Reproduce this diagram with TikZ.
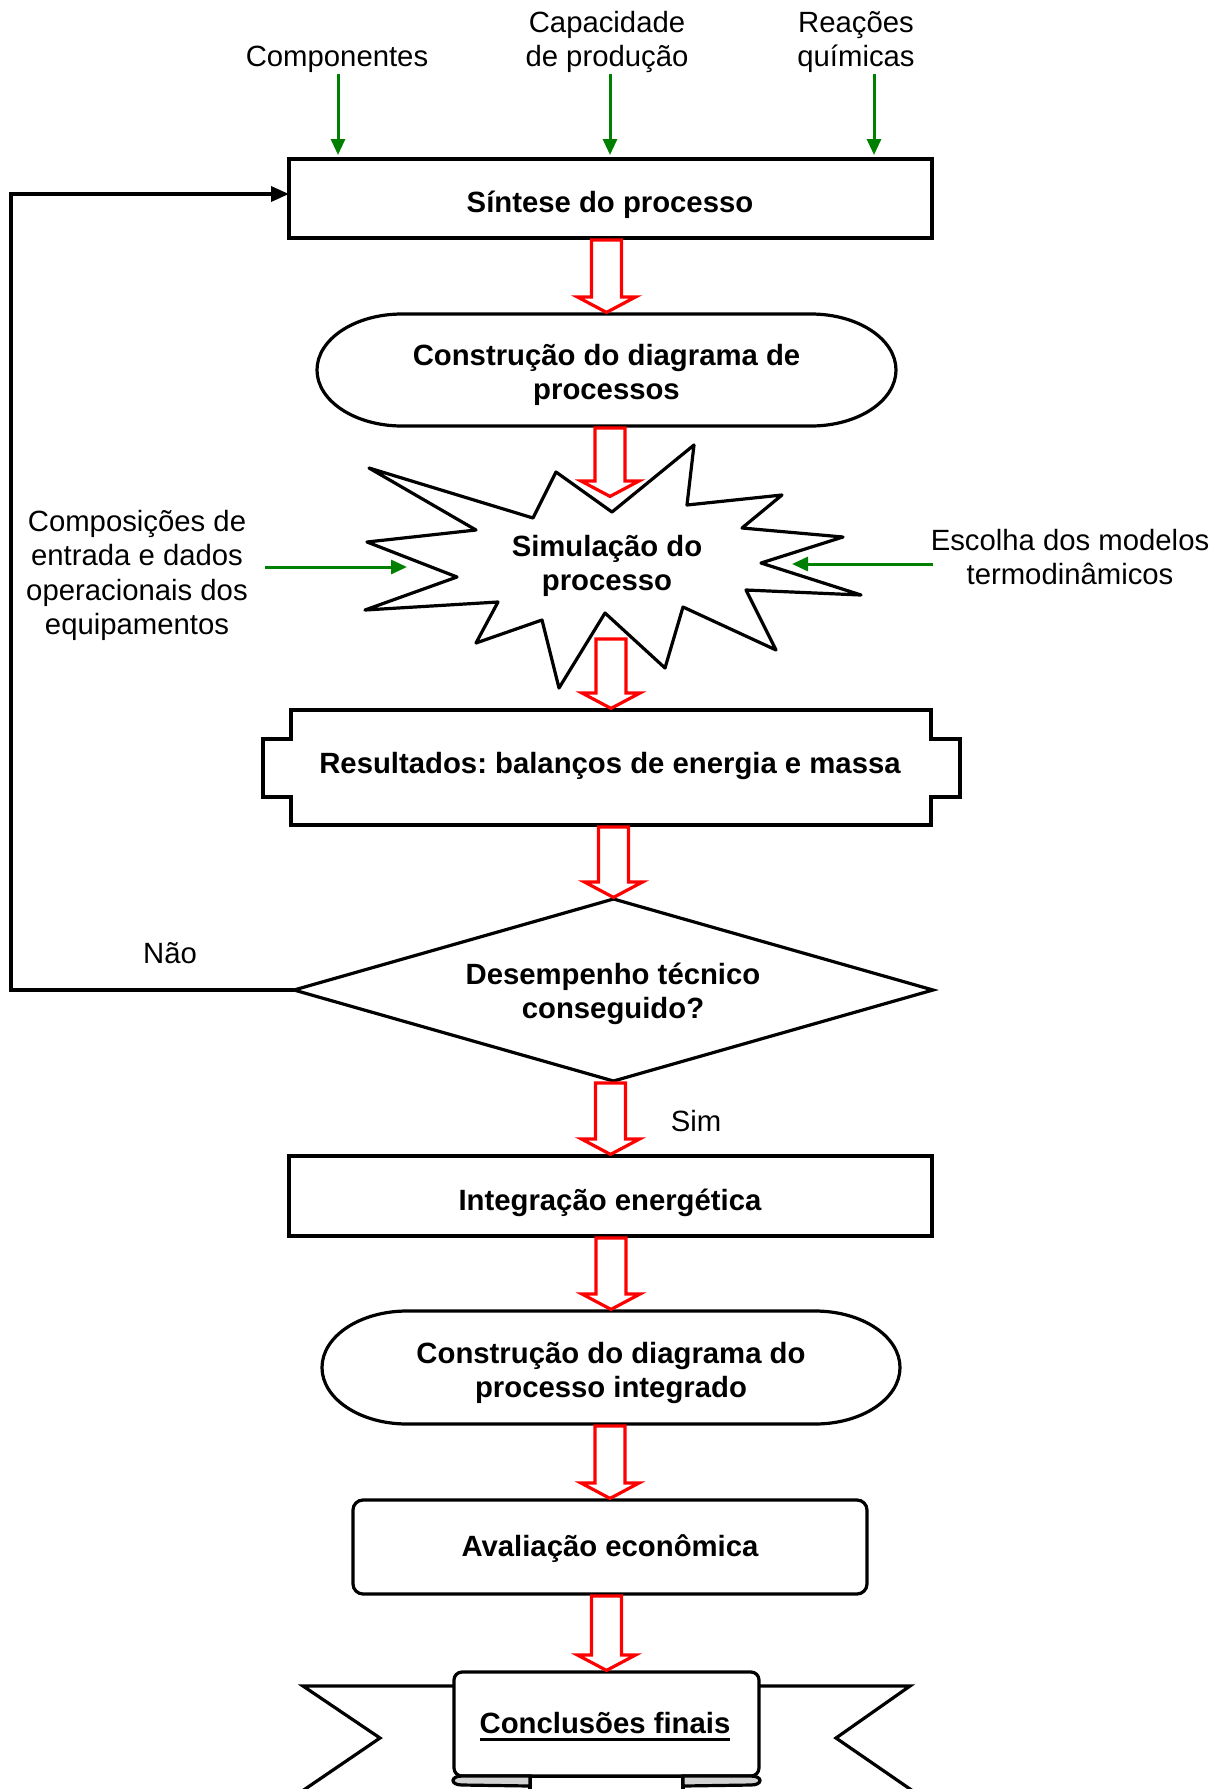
\documentclass[tikz,border=0pt]{standalone}
\usepackage{fontspec}
\setmainfont{Liberation Sans}
\usetikzlibrary{arrows.meta,calc}
\definecolor{ggreen}{RGB}{0,128,0}
\newcommand\fsz{\fontsize{14.65pt}{17.1pt}\selectfont\frenchspacing}
% hollow red block arrow: from source point #1 down to tip point #2
\newcommand\blockarr[2]{%
  \draw[redarrow] let \p1=(#1), \p2=(#2) in
    (\x2-7.5pt,\y1-1pt) -- (\x2-7.5pt,\y2+8.5pt) -- (\x2-14.5pt,\y2+8.5pt) --
    (\x2,\y2+0.8pt) -- (\x2+14.5pt,\y2+8.5pt) -- (\x2+7.5pt,\y2+8.5pt) --
    (\x2+7.5pt,\y1-1pt) -- cycle;}
% stadium outline round a named frame node
\newcommand\stadium[2]{%
  \draw[outline] ($(#1.north west)+(85,0)$) -- ($(#1.north east)+(-85,0)$)
    arc[start angle=90,end angle=-90,x radius=42.5pt,y radius=#2]
    -- ($(#1.south west)+(85,0)$)
    arc[start angle=270,end angle=90,x radius=42.5pt,y radius=#2] -- cycle;}
\begin{document}
\frenchspacing
\begin{tikzpicture}[x=0.5pt,y=-0.5pt,
  every node/.style={inner sep=0pt, outer sep=0pt},
  lbl/.style={align=center, font=\fsz},
  btxt/.style={align=center, font=\fsz\bfseries},
  frame/.style={draw=none},
  outline/.style={draw=black, line width=1.6pt, fill=white, line join=miter},
  boxed/.style={draw=black, line width=1.6pt, fill=white},
  redarrow/.style={draw=red, line width=1.6pt, fill=white, line join=miter},
  garrow/.style={draw=ggreen, line width=1.5pt, -{Triangle[length=8pt,width=7pt]}},
  fb/.style={draw=black, line width=1.7pt, -{Triangle[length=9pt,width=7.5pt]}}]
\useasboundingbox (0,0) rectangle (1222,1789);
\fill[white] (0,0) rectangle (1222,1789);
\clip (0,0) rectangle (1222,1789);

% ---- top labels ----
\node[lbl] (lcomp) at (337,59) {Componentes};
\node[lbl] (lcap) at (607,42) {Capacidade\\de produção};
\node[lbl] (lrea) at (856,42) {Reações\\químicas};

% ---- Síntese ----
\node[boxed, minimum width=321.5pt, minimum height=39.5pt] (s1) at (610.5,198.5) {};
\node[btxt] (s1t) at (610,205) {Síntese do processo};

\coordinate (g1) at (338,74);
\coordinate (g2) at (610,74);
\coordinate (g3) at (874,74);
\draw[garrow, shorten >=2pt] (g1) -- (g1 |- s1.north);
\draw[garrow, shorten >=2pt] (g2) -- (g2 |- s1.north);
\draw[garrow, shorten >=2pt] (g3) -- (g3 |- s1.north);

% ---- Construção do diagrama de processos ----
\node[frame, minimum width=289.5pt, minimum height=56pt] (e1) at (606.5,370) {};
\stadium{e1}{28pt}
\node[btxt] (e1t) at (606.5,375) {Construção do diagrama de\\processos};

% ---- Simulação (star) ----
\draw[outline, line join=round] (369,468) -- (533,518) -- (556,472) -- (612,512) -- (694,445) -- (687,505)
  -- (782,495) -- (742,528) -- (843,537) -- (761,563) -- (861,595) -- (746,590)
  -- (776,650) -- (683,607) -- (665,668) -- (605,613) -- (559,688) -- (542,620)
  -- (476,643) -- (498,602) -- (365,610) -- (457,577) -- (367,542) -- (476,530) -- cycle;
\node[btxt] (sim) at (607,566) {Simulação do\\processo};
\coordinate (simtop) at (610,498);
\coordinate (simbot) at (611,637);

\node[lbl] (lcomp2) at (137,575.5) {Composições de\\entrada e dados\\operacionais dos\\equipamentos};
\node[lbl] (lesc) at (1070,557) {Escolha dos modelos\\termodinâmicos};
\coordinate (gl) at (265,567);
\coordinate (glt) at (407,567);
\coordinate (gr) at (933,564);
\coordinate (grt) at (792,564);
\draw[garrow] (gl) -- (glt);
\draw[garrow] (gr) -- (grt);

% ---- Resultados ----
\node[frame, minimum width=320pt, minimum height=57.5pt] (res) at (611,767.5) {};
\draw[outline] (res.north west) -- (res.north east) -- ($(res.north east)+(0,29)$)
  -- ($(res.north east)+(29,29)$) -- ($(res.south east)+(29,-28)$)
  -- ($(res.south east)+(0,-28)$) -- (res.south east) -- (res.south west)
  -- ($(res.south west)+(0,-28)$) -- ($(res.south west)+(-28,-28)$)
  -- ($(res.north west)+(-28,29)$) -- ($(res.north west)+(0,29)$) -- cycle;
\node[btxt] (rest) at (610,766) {Resultados: balanços de energia e massa};

% ---- Decision ----
\node[frame, minimum width=319.5pt, minimum height=91pt] (dec) at (613.5,990) {};
\draw[outline] (dec.west) -- (dec.north) -- (dec.east) -- (dec.south) -- cycle;
\node[btxt] (dect) at (613,994) {Desempenho técnico\\conseguido?};
\node[lbl] (nao) at (170,953) {Não};
\node[lbl] (simlab) at (696,1121) {Sim};

\coordinate (fbx) at (11,0);
\draw[fb] (dec.west) -- (dec.west -| fbx) |- ([yshift=2.25pt]s1.west);

% ---- Integração ----
\node[boxed, minimum width=321.5pt, minimum height=40pt] (s5) at (610.5,1196) {};
\node[btxt] (s5t) at (610,1202.5) {Integração energética};

% ---- Construção do diagrama do processo integrado ----
\node[frame, minimum width=289pt, minimum height=56.5pt] (e2) at (611,1367.5) {};
\stadium{e2}{28.25pt}
\node[btxt] (e2t) at (611,1373) {Construção do diagrama do\\processo integrado};

% ---- Avaliação ----
\node[boxed, rounded corners=5pt, minimum width=257pt, minimum height=47pt] (av) at (610,1547) {};
\node[btxt] (avt) at (610,1549) {Avaliação econômica};

% ---- Ribbon ----
\node[frame, minimum width=152.5pt, minimum height=52pt] (rib) at (606.5,1724) {};
\draw[outline] (470,1686) -- (303,1686) -- (380,1738) -- (289,1800) -- (470,1800);
\draw[outline] (740,1686) -- (910,1686) -- (836,1738) -- (926,1800) -- (740,1800);
\draw[outline] (530,1800) -- (530,1776) -- (683,1776) -- (683,1800);
\draw[outline, rounded corners=4pt] (rib.south west) -- (rib.north west) -- (rib.north east) -- (rib.south east) -- cycle;
\draw[outline, fill=gray!35] (530,1776) -- (462,1776) .. controls (450,1776) and (450,1785) .. (462,1785) -- (530,1786) -- cycle;
\draw[outline, fill=gray!35] (683,1776) -- (751,1776) .. controls (763,1776) and (763,1785) .. (751,1785) -- (683,1786) -- cycle;
\node[btxt] (cft) at (605,1723) {Conclusões finais};
\draw[line width=1.5pt] ([yshift=-3pt]cft.base west) -- ([yshift=-3pt]cft.base east);

% ---- red block arrows ----
\blockarr{s1.south}{e1.north}
\blockarr{e1.south}{simtop}
\blockarr{simbot}{res.north}
\blockarr{res.south}{dec.north}
\blockarr{dec.south}{s5.north}
\blockarr{s5.south}{e2.north}
\blockarr{e2.south}{av.north}
\blockarr{av.south}{rib.north}
\end{tikzpicture}
\end{document}
